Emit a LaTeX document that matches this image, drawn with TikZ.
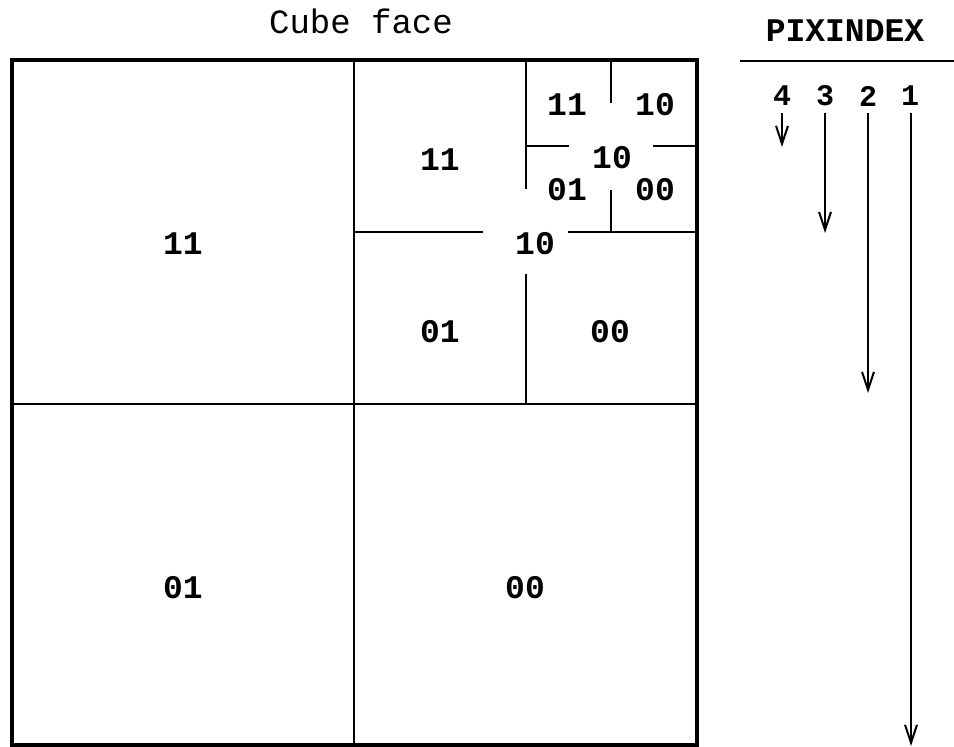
\documentclass[tikz,border=0pt]{standalone}
\usepackage{fontspec}
\setmonofont{Liberation Mono}
\usetikzlibrary{arrows.meta}
\tikzset{
  thinline/.style={line width=2pt},
  lbl/.style={font=\ttfamily\bfseries\fontsize{33}{36}\selectfont, inner sep=0pt, anchor=center},
  idx/.style={font=\ttfamily\bfseries\fontsize{30}{34}\selectfont, inner sep=0pt, anchor=center},
  arr/.style={line width=2pt, -{Straight Barb[length=18pt,width=12pt,line width=2pt]}}
}
\begin{document}
\begin{tikzpicture}[x=1pt,y=-1pt]
\useasboundingbox (0,0) rectangle (954,747);
% outer square
\draw[line width=4pt] (12,60) rectangle (697,745);
% level 1
\draw[thinline] (354,60) -- (354,745);
\draw[thinline] (12,404) -- (697,404);
% level 2 (top-right quadrant)
\draw[thinline] (526,60) -- (526,189);
\draw[thinline] (526,274) -- (526,404);
\draw[thinline] (354,232) -- (483,232);
\draw[thinline] (568,232) -- (697,232);
% level 3
\draw[thinline] (611,60) -- (611,103);
\draw[thinline] (611,190) -- (611,232);
\draw[thinline] (526,146) -- (569,146);
\draw[thinline] (653,146) -- (697,146);
% labels
\node[lbl] (l1a) at (183,244) {11};
\node[lbl] (l1b) at (183,588) {01};
\node[lbl] (l1c) at (525,588) {00};
\node[lbl] (l2a) at (440,160) {11};
\node[lbl] (l2b) at (535,244) {10};
\node[lbl] (l2c) at (440,332) {01};
\node[lbl] (l2d) at (610,332) {00};
\node[lbl] (l3a) at (567,105) {11};
\node[lbl] (l3b) at (655,105) {10};
\node[lbl] (l3c) at (612,158) {10};
\node[lbl] (l3d) at (567,190) {01};
\node[lbl] (l3e) at (655,190) {00};
% title
\node[font=\ttfamily\fontsize{34}{37}\selectfont, inner sep=0pt] (title) at (361,21) {Cube face};
% PIXINDEX
\node[font=\ttfamily\bfseries\fontsize{33}{36}\selectfont, inner sep=0pt] (pix) at (845,31) {PIXINDEX};
\coordinate (pl) at (740,61);
\coordinate (pr) at (954,61);
\draw[thinline] (pl) -- (pr);
\node[idx] (d4) at (782,96) {4};
\node[idx] (d3) at (825,96) {3};
\node[idx] (d2) at (868,96) {2};
\node[idx] (d1) at (910,96) {1};
\coordinate (s4) at (782,113);
\coordinate (s3) at (825,113);
\coordinate (s2) at (868,113);
\coordinate (s1) at (911,113);
\coordinate (e4) at (782,147);
\coordinate (e3) at (825,233);
\coordinate (e2) at (868,393);
\coordinate (e1) at (911,746);
\draw[arr] (s4) -- (e4);
\draw[arr] (s3) -- (e3);
\draw[arr] (s2) -- (e2);
\draw[arr] (s1) -- (e1);
\end{tikzpicture}
\end{document}
